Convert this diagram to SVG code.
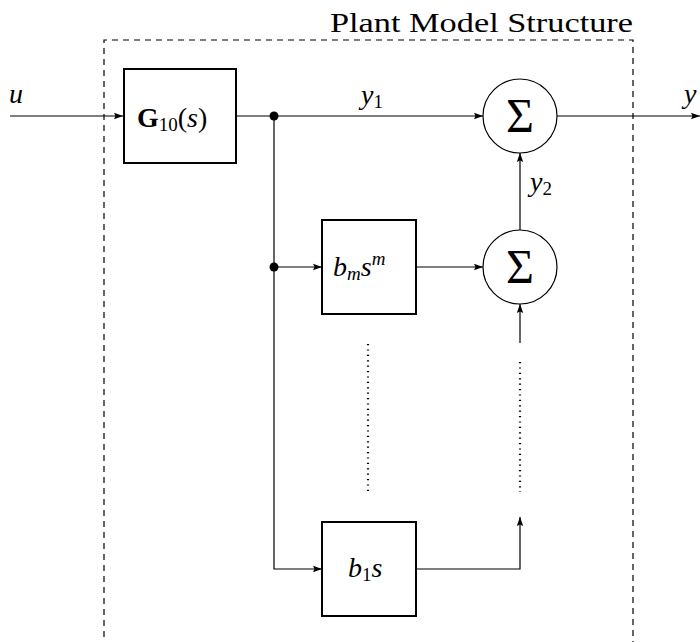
<svg xmlns="http://www.w3.org/2000/svg" width="700" height="642" viewBox="0 0 700 642">
<defs>
<marker id="arr" markerUnits="userSpaceOnUse" markerWidth="10" markerHeight="8" refX="9" refY="4" orient="auto">
<path d="M0,0.8 L9,4 L0,7.2 L1.5,4 Z" fill="#000"/>
</marker>
</defs>
<rect width="700" height="642" fill="#fff"/>
<g id="frame">
<path d="M104,648 L104,40 L633,40 L633,648" fill="none" stroke="#000" stroke-width="1.2" stroke-dasharray="6 5"/>
<text x="633" y="32" text-anchor="end" style="font-family:'Liberation Serif',serif;font-size:28px" textLength="303" lengthAdjust="spacingAndGlyphs">Plant Model Structure</text>
</g>
<g id="connectors" fill="none" stroke="#000" stroke-width="1.2">
<path d="M10,116 L123,116" marker-end="url(#arr)"/>
<path d="M236,116 L483,116" marker-end="url(#arr)"/>
<path d="M557,116 L700,116" marker-end="url(#arr)"/>
<path d="M274,116 L274,569 L322,569" marker-end="url(#arr)"/>
<path d="M274,267 L322,267" marker-end="url(#arr)"/>
<path d="M416,267 L483,267" marker-end="url(#arr)"/>
<path d="M520,230 L520,153" marker-end="url(#arr)"/>
<path d="M520,343 L520,304" marker-end="url(#arr)"/>
<path d="M416,569 L520,569 L520,517" marker-end="url(#arr)"/>
<circle cx="274" cy="116" r="4.5" fill="#000" stroke="none"/>
<circle cx="274" cy="267" r="4.5" fill="#000" stroke="none"/>
<path d="M368,344 L368,494" stroke-width="2.2" stroke-dasharray="1.2 4.2"/>
<path d="M520,362 L520,492" stroke-width="2.2" stroke-dasharray="1.2 4.2"/>
</g>
<g id="labels" style="font-family:'Liberation Serif',serif;font-size:28px;font-style:italic">
<text x="9" y="103" style="font-family:'Liberation Serif',serif">u</text>
<text x="361" y="104" style="font-family:'Liberation Serif',serif">y<tspan dy="4" style="font-size:19px;font-style:normal">1</tspan></text>
<text x="684" y="103" style="font-family:'Liberation Serif',serif">y</text>
<text x="530" y="191" style="font-family:'Liberation Serif',serif">y<tspan dy="4" style="font-size:19px;font-style:normal">2</tspan></text>
</g>
<g id="G10">
<rect x="124" y="69" width="112" height="94" fill="#fff" stroke="#000" stroke-width="2"/>
<text x="137" y="127" style="font-family:'Liberation Serif',serif;font-size:28px"><tspan style="font-weight:bold">G</tspan><tspan dy="4" style="font-size:19px">10</tspan><tspan dy="-4">(</tspan><tspan style="font-style:italic">s</tspan>)</text>
</g>
<g id="sum1">
<circle cx="520" cy="116" r="37" fill="#fff" stroke="#000" stroke-width="1.2"/>
<text x="520" y="132" text-anchor="middle" style="font-family:'Liberation Serif',serif;font-size:48px">Σ</text>
</g>
<g id="sum2">
<circle cx="520" cy="267" r="37" fill="#fff" stroke="#000" stroke-width="1.2"/>
<text x="520" y="283" text-anchor="middle" style="font-family:'Liberation Serif',serif;font-size:48px">Σ</text>
</g>
<g id="bm">
<rect x="322" y="220" width="94" height="94" fill="#fff" stroke="#000" stroke-width="2"/>
<text x="333" y="276" style="font-family:'Liberation Serif',serif;font-size:28px;font-style:italic">b<tspan dy="4" style="font-size:19px">m</tspan><tspan dy="-4">s</tspan><tspan dy="-11" style="font-size:19px">m</tspan></text>
</g>
<g id="b1">
<rect x="322" y="522" width="94" height="94" fill="#fff" stroke="#000" stroke-width="2"/>
<text x="348" y="577" style="font-family:'Liberation Serif',serif;font-size:28px;font-style:italic">b<tspan dy="4" style="font-size:19px;font-style:normal">1</tspan><tspan dy="-4">s</tspan></text>
</g>
</svg>
